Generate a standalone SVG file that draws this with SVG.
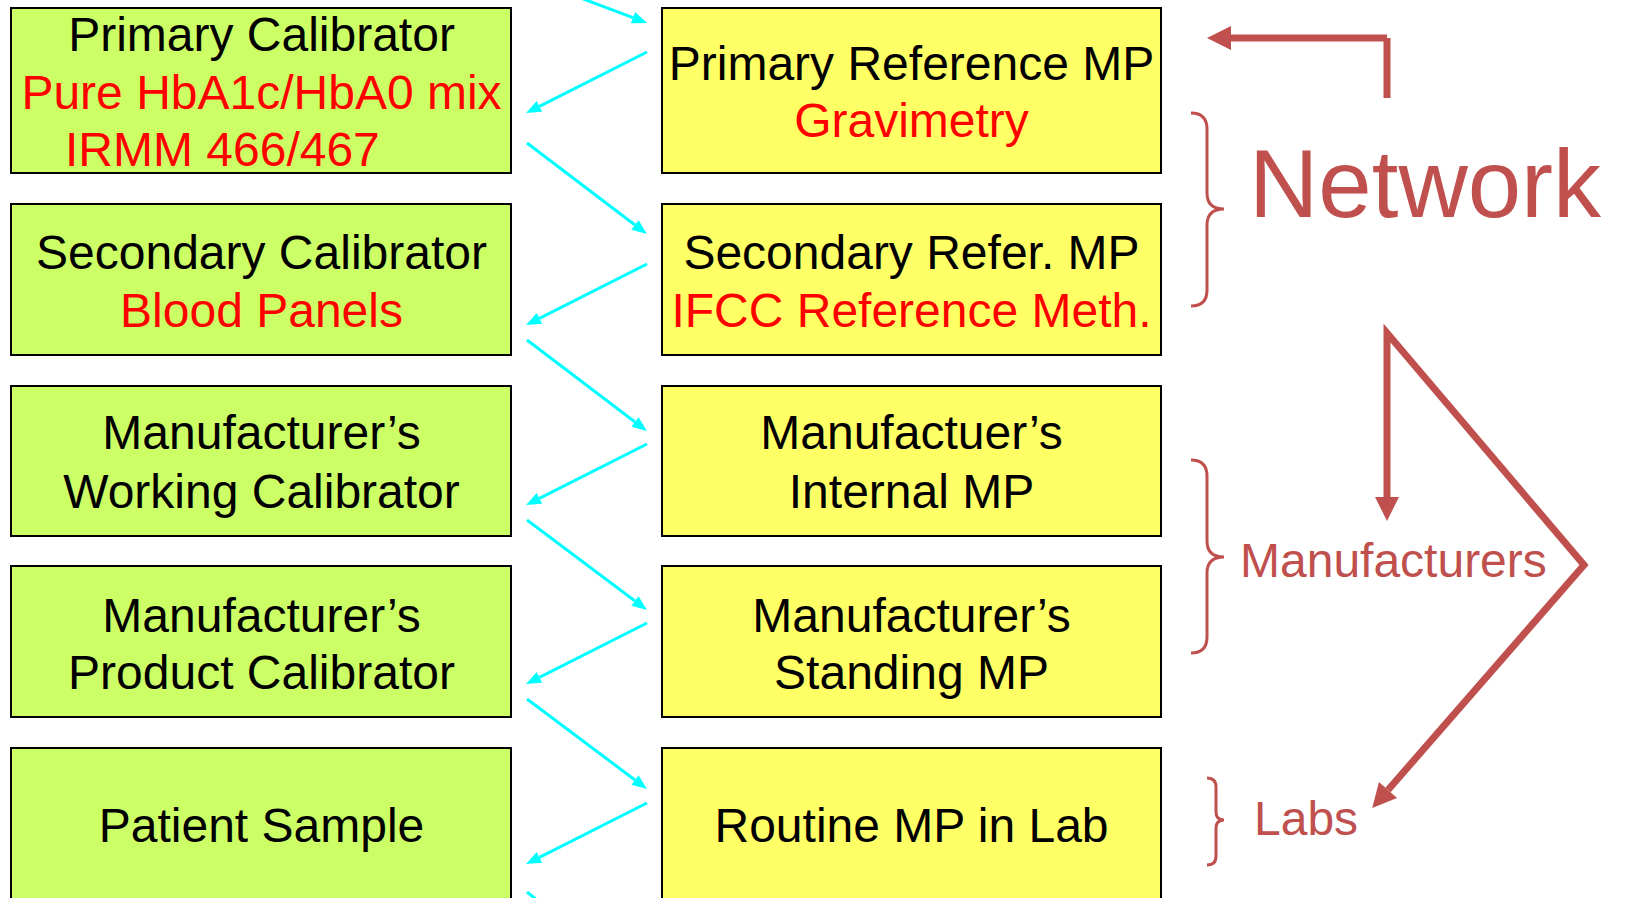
<svg xmlns="http://www.w3.org/2000/svg" width="1627" height="898" viewBox="0 0 1627 898">
<style>
  .g { fill: #CCFF66; stroke: #000; stroke-width: 2; }
  .y { fill: #FFFF66; stroke: #000; stroke-width: 2; }
  text { font-family: "Liberation Sans", Arial, sans-serif; }
  .t { font-size: 48px; fill: #000; text-anchor: middle; }
  .r { font-size: 48px; fill: #FF0000; text-anchor: middle; }
  .cy { fill: none; stroke: #00FFFF; stroke-width: 3; marker-end: url(#ca); }
  .rd { fill: none; stroke: #C0504D; stroke-width: 7; }
  .br { fill: none; stroke: #C0504D; stroke-width: 3; }
  .lbl { fill: #C0504D; }
</style>
<defs>
  <marker id="ca" markerUnits="userSpaceOnUse" markerWidth="16" markerHeight="14" refX="0" refY="7" orient="auto" overflow="visible">
    <path d="M0,1 L15,7 L0,13 z" fill="#00FFFF"/>
  </marker>
  <marker id="ra" markerUnits="userSpaceOnUse" markerWidth="25" markerHeight="26" refX="0" refY="12" orient="auto" overflow="visible">
    <path d="M0,0 L24,12 L0,24 z" fill="#C0504D"/>
  </marker>
  <marker id="ras" markerUnits="userSpaceOnUse" markerWidth="25" markerHeight="26" refX="0" refY="12" orient="auto-start-reverse" overflow="visible">
    <path d="M0,0 L24,12 L0,24 z" fill="#C0504D"/>
  </marker>
</defs>

<g id="node-primary-calibrator">
  <rect class="g" x="11" y="8" width="500" height="165"/>
  <text class="t" x="261.5" y="51">Primary Calibrator</text>
  <text class="r" x="261.5" y="109">Pure HbA1c/HbA0 mix</text>
  <text class="r" x="65" y="166" style="text-anchor:start">IRMM 466/467</text>
</g>
<g id="node-secondary-calibrator">
  <rect class="g" x="11" y="204" width="500" height="151"/>
  <text class="t" x="261.5" y="269">Secondary Calibrator</text>
  <text class="r" x="261.5" y="327">Blood Panels</text>
</g>
<g id="node-working-calibrator">
  <rect class="g" x="11" y="386" width="500" height="150"/>
  <text class="t" x="261.5" y="449">Manufacturer’s</text>
  <text class="t" x="261.5" y="508">Working Calibrator</text>
</g>
<g id="node-product-calibrator">
  <rect class="g" x="11" y="566" width="500" height="151"/>
  <text class="t" x="261.5" y="632">Manufacturer’s</text>
  <text class="t" x="261.5" y="689">Product Calibrator</text>
</g>
<g id="node-patient-sample">
  <rect class="g" x="11" y="748" width="500" height="170"/>
  <text class="t" x="261.5" y="842">Patient Sample</text>
</g>

<g id="node-primary-reference-mp">
  <rect class="y" x="662" y="8" width="499" height="165"/>
  <text class="t" x="911.5" y="80">Primary Reference MP</text>
  <text class="r" x="911.5" y="137">Gravimetry</text>
</g>
<g id="node-secondary-refer-mp">
  <rect class="y" x="662" y="204" width="499" height="151"/>
  <text class="t" x="911.5" y="269">Secondary Refer. MP</text>
  <text class="r" x="911.5" y="327">IFCC Reference Meth.</text>
</g>
<g id="node-internal-mp">
  <rect class="y" x="662" y="386" width="499" height="150"/>
  <text class="t" x="911.5" y="449">Manufactuer’s</text>
  <text class="t" x="911.5" y="508">Internal MP</text>
</g>
<g id="node-standing-mp">
  <rect class="y" x="662" y="566" width="499" height="151"/>
  <text class="t" x="911.5" y="632">Manufacturer’s</text>
  <text class="t" x="911.5" y="689">Standing MP</text>
</g>
<g id="node-routine-mp">
  <rect class="y" x="662" y="748" width="499" height="170"/>
  <text class="t" x="911.5" y="842">Routine MP in Lab</text>
</g>

<g id="connectors">
  <path class="cy" d="M578,-3 L633,17.7"/>
  <path class="cy" d="M647,52 L539.4,106.3"/>
  <path class="cy" d="M527,143 L635,225"/>
  <path class="cy" d="M647,264 L539.4,318.3"/>
  <path class="cy" d="M527,340 L635,422"/>
  <path class="cy" d="M647,444 L539.4,498.3"/>
  <path class="cy" d="M527,520 L635,601"/>
  <path class="cy" d="M647,623 L539.4,677.3"/>
  <path class="cy" d="M527,699 L635,780"/>
  <path class="cy" d="M647,803 L539.4,857.3"/>
  <path d="M527,892 L537,900" fill="none" stroke="#00FFFF" stroke-width="3"/>

  <path class="rd" d="M1387,98 L1387,38 M1387,38 L1231,38" marker-end="url(#ra)"/>
  <path class="rd" d="M1387,497 L1387,333 L1584,565 L1388,790" marker-start="url(#ras)" marker-end="url(#ra)"/>
</g>

<g id="group-network">
  <path class="br" d="M1191,113 Q1207,113 1207,129 L1207,193 Q1207,209 1224,209 Q1207,209 1207,225 L1207,290 Q1207,306 1191,306"/>
  <text class="lbl" x="1249" y="217" font-size="96">Network</text>
</g>
<g id="group-manufacturers">
  <path class="br" d="M1191,460 Q1207,460 1207,476 L1207,541 Q1207,557 1224,557 Q1207,557 1207,573 L1207,637 Q1207,653 1191,653"/>
  <text class="lbl" x="1240" y="577" font-size="48">Manufacturers</text>
</g>
<g id="group-labs">
  <path class="br" d="M1207,778 Q1216,778 1216,787 L1216,812 Q1216,820 1224,820 Q1216,820 1216,828 L1216,856 Q1216,865 1207,865"/>
  <text class="lbl" x="1254" y="835" font-size="48">Labs</text>
</g>
</svg>
